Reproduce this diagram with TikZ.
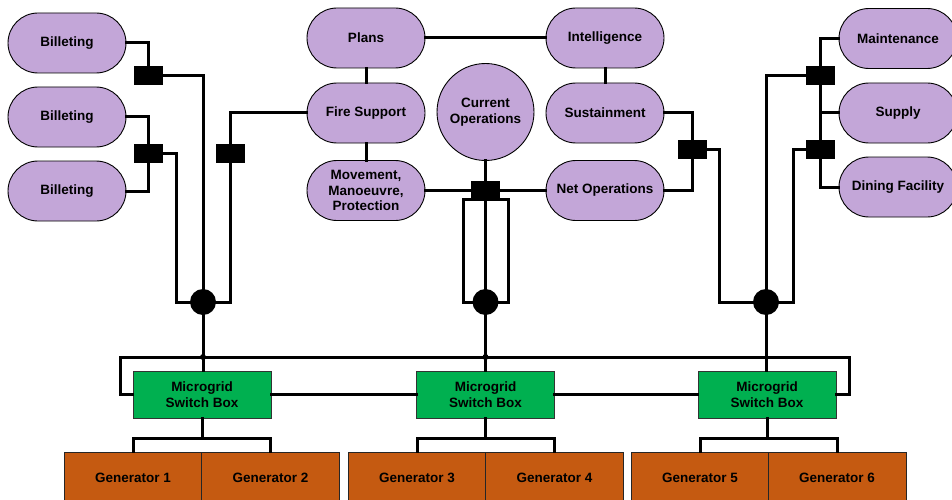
\documentclass[tikz,border=0pt]{standalone}
\usepackage{fontspec}
\setmainfont{Liberation Sans}
\usetikzlibrary{calc}
\definecolor{lilac}{RGB}{195,166,216}
\definecolor{swgreen}{RGB}{0,176,80}
\definecolor{genorange}{RGB}{197,90,17}
\begin{document}
\begin{tikzpicture}[x=1pt,y=-1pt,
  every node/.style={font=\fontsize{13.5}{15.7}\selectfont\bfseries, align=center, inner sep=0pt},
  pill/.style={draw=black, line width=0.9pt, fill=lilac, rectangle, rounded corners=30pt, minimum width=118pt, minimum height=60pt},
  disc/.style={draw=black, line width=0.9pt, fill=lilac, circle, minimum size=97pt},
  sqbox/.style={fill=black, rectangle, minimum width=29pt, minimum height=19pt},
  hub/.style={fill=black, circle, minimum size=26pt},
  swbox/.style={draw=black!80, line width=0.9pt, fill=swgreen, rectangle, minimum width=138pt, minimum height=47pt},
  genbox/.style={draw=black!85, line width=0.9pt, fill=genorange, rectangle, minimum width=138pt, minimum height=52pt},
  wire/.style={draw=black, line width=3pt, line cap=rect}
]
\useasboundingbox (0,0) rectangle (952,500);

% left column
\node[pill] (bil1) at (67,43) {Billeting};
\node[pill] (bil2) at (67,117) {Billeting};
\node[pill] (bil3) at (67,191) {Billeting};
% centre
\node[pill] (plans) at (366,38) {Plans};
\node[pill] (fire) at (366,113) {Fire Support};
\node[pill] (move) at (366,190.5) {Movement,\\Manoeuvre,\\Protection};
\node[disc] (curops) at (485.5,112) {Current\\Operations};
\node[pill] (intel) at (605,38) {Intelligence};
\node[pill] (sust) at (605,113) {Sustainment};
\node[pill] (netops) at (605,190.5) {Net Operations};
% right column
\node[pill] (maint) at (898,38.5) {Maintenance};
\node[pill] (supply) at (898,113) {Supply};
\node[pill] (dining) at (898,187) {Dining Facility};

% junction squares
\node[sqbox] (sq1) at (148.5,76) {};
\node[sqbox] (sq2) at (148.5,153) {};
\node[sqbox] (sq3) at (230,153) {};
\node[sqbox] (sqc) at (485.5,190.5) {};
\node[sqbox] (sq4) at (692,149) {};
\node[sqbox] (sq5) at (820,76) {};
\node[sqbox] (sq6) at (820,149) {};

% hubs
\node[hub] (circ1) at (203,302) {};
\node[hub] (circ2) at (485.5,302) {};
\node[hub] (circ3) at (766,302) {};

% switch boxes
\node[swbox] (sw1) at (202,394.5) {Microgrid\\Switch Box};
\node[swbox] (sw2) at (485.5,394.5) {Microgrid\\Switch Box};
\node[swbox] (sw3) at (767,394.5) {Microgrid\\Switch Box};

% generators
\node[genbox] (gen1) at (133,478) {Generator 1};
\node[genbox] (gen2) at (270.5,478) {Generator 2};
\node[genbox] (gen3) at (417,478) {Generator 3};
\node[genbox] (gen4) at (554.5,478) {Generator 4};
\node[genbox] (gen5) at (700,478) {Generator 5};
\node[genbox] (gen6) at (837,478) {Generator 6};

% coordinates
\coordinate (c2) at (176,302);
\coordinate (lpA) at (463,199.5);
\coordinate (lpB) at (508,199.5);
\coordinate (c4) at (719,302);
\coordinate (c6) at (793,302);
\coordinate (busL) at (120,357);
\coordinate (busR) at (849,357);
\coordinate (j1) at (202,438);
\coordinate (j2) at (485.5,438);
\coordinate (j3) at (767,438);

% left wiring
\draw[wire] (bil1.east) -| (sq1.north);
\draw[wire] (sq1.east) -| (circ1.north);
\draw[wire] (bil2.east) -| (sq2.north);
\draw[wire] (bil3.east) -| (sq2.south);
\draw[wire] (sq2.east) -| (c2) -- (circ1.west);
\draw[wire] (fire.west) -| (sq3.north);
\draw[wire] (sq3.south) |- (circ1.east);

% centre wiring
\draw[wire] (plans.south) -- (fire.north);
\draw[wire] (fire.south) -- (move.north);
\draw[wire] (plans.east) -- (intel.west);
\draw[wire] (intel.south) -- (sust.north);
\draw[wire] (move.east) -- (sqc.west);
\draw[wire] (sqc.east) -- (netops.west);
\draw[wire] (curops.south) -- (sqc.north);
\draw[wire] (sqc.south) -- (circ2.north);
\draw[wire] (lpA) -- (lpB);
\draw[wire] (lpA) |- (circ2.west);
\draw[wire] (lpB) |- (circ2.east);

% right wiring
\draw[wire] (sust.east) -| (sq4.north);
\draw[wire] (netops.east) -| (sq4.south);
\draw[wire] (sq4.east) -| (c4) -- (circ3.west);
\draw[wire] (maint.west) -| (sq5.north);
\draw[wire] (sq5.south) -- (sq6.north);
\draw[wire] (supply.west) -- (supply.west -| sq5.south);
\draw[wire] (dining.west) -| (sq6.south);
\draw[wire] (sq5.west) -| (circ3.north);
\draw[wire] (sq6.west) -| (c6) -- (circ3.east);

% hubs to switch boxes
\draw[wire] (circ1.south) -- (circ1.south |- sw1.north);
\draw[wire] (circ2.south) -- (sw2.north);
\draw[wire] (circ3.south) -- (circ3.south |- sw3.north);

% bus
\draw[wire] (sw1.west) -| (busL) -- (busR) |- (sw3.east);
\fill (circ1.south |- busL) circle (3pt);
\fill (circ2.south |- busL) circle (3pt);
\draw[wire] (sw1.east) -- (sw2.west);
\draw[wire] (sw2.east) -- (sw3.west);

% switch boxes to generators
\draw[wire] (sw1.south) -- (j1);
\draw[wire] (gen1.north) |- (j1) -| (gen2.north);
\draw[wire] (sw2.south) -- (j2);
\draw[wire] (gen3.north) |- (j2) -| (gen4.north);
\draw[wire] (sw3.south) -- (j3);
\draw[wire] (gen5.north) |- (j3) -| (gen6.north);
\end{tikzpicture}
\end{document}
